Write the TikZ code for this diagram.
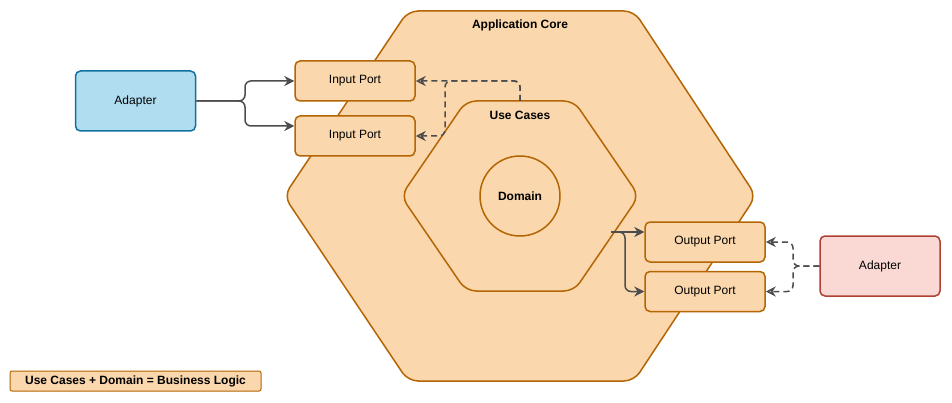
\documentclass[tikz,border=0pt]{standalone}
\usepackage{fontspec}
\setmainfont{Liberation Sans}
\usetikzlibrary{arrows.meta}

\begin{document}
\begin{tikzpicture}[x=1pt,y=1pt,
  port/.style={draw=portLine,fill=portFill,line width=1.5pt,rounded corners=5pt,
    minimum width=120pt,minimum height=40pt,inner sep=0pt,font=\fontsize{12}{14}\selectfont},
  adapter/.style={port,minimum height=60pt},
  hexagon/.style={draw=portLine,fill=portFill,line width=1.5pt,rounded corners=10pt},
  title/.style={inner sep=0pt,font=\bfseries\fontsize{12}{14}\selectfont},
  flow/.style={draw=arrowColor,line width=1.5pt,rounded corners=6pt,-{Stealth[length=10pt,width=10pt]}},
  uses/.style={flow,dash pattern=on 6pt off 4pt,-{Stealth[open,length=10pt,width=10pt]}}]
\definecolor{portFill}{RGB}{250,215,172}
\definecolor{portLine}{RGB}{180,101,4}
\definecolor{adapterBlue}{RGB}{177,221,240}
\definecolor{adapterBlueLine}{RGB}{16,115,158}
\definecolor{adapterRed}{RGB}{250,217,213}
\definecolor{adapterRedLine}{RGB}{174,65,50}
\definecolor{arrowColor}{RGB}{77,77,77}
\path[use as bounding box,fill=white] (0,0) rectangle (952,402);

% application core
\path[hexagon] (520,391) -- (634,391) -- (756,206) -- (634,21) -- (408,21) -- (284,206) -- (408,391) -- cycle;
\node[title] (appCore) at (520,377) {Application Core};

% use cases and domain
\path[hexagon] (520,301) -- (574,301) -- (639,206) -- (574,111) -- (466,111) -- (401,206) -- (466,301) -- cycle;
\node[title] (useCases) at (520,287) {Use Cases};
\node[title,circle,draw=portLine,line width=1.5pt,minimum size=80pt] (domain) at (520,206) {Domain};
\coordinate (ucTop) at (520,301);
\coordinate (ucExit) at (611,170);

\node[adapter,fill=adapterBlue,draw=adapterBlueLine] (adapterIn) at (135.5,301) {Adapter};
\node[port] (inPortA) at (355,321) {Input Port};
\node[port] (inPortB) at (355,266) {Input Port};
\node[port] (outPortA) at (705,160) {Output Port};
\node[port] (outPortB) at (705,110.5) {Output Port};
\node[adapter,fill=adapterRed,draw=adapterRedLine] (adapterOut) at (880,136) {Adapter};

\node[port,minimum width=251pt,minimum height=20pt,rounded corners=2pt,line width=1pt,
  font=\bfseries\fontsize{12}{14}\selectfont] (legend) at (135.5,21) {Use Cases + Domain = Business Logic};

% connectors
\coordinate (splitIn) at (245,301);
\draw[flow] (adapterIn.east) -- (splitIn) |- (inPortA.west);
\draw[flow] (adapterIn.east) -- (splitIn) |- ([yshift=10pt]inPortB.west);

\coordinate (splitUse) at (445,321);
\draw[uses] (ucTop) |- (inPortA.east);
\draw[uses] (ucTop) |- (splitUse) |- (inPortB.east);

\coordinate (splitOut) at (625,170);
\draw[flow] (ucExit) -- ([yshift=10pt]outPortA.west);
\draw[flow] (ucExit) -- (splitOut) |- (outPortB.west);

\coordinate (splitAdapter) at (793,136);
\draw[uses] (adapterOut.west) -- (splitAdapter) |- (outPortA.east);
\draw[uses] (adapterOut.west) -- (splitAdapter) |- (outPortB.east);
\end{tikzpicture}
\end{document}
